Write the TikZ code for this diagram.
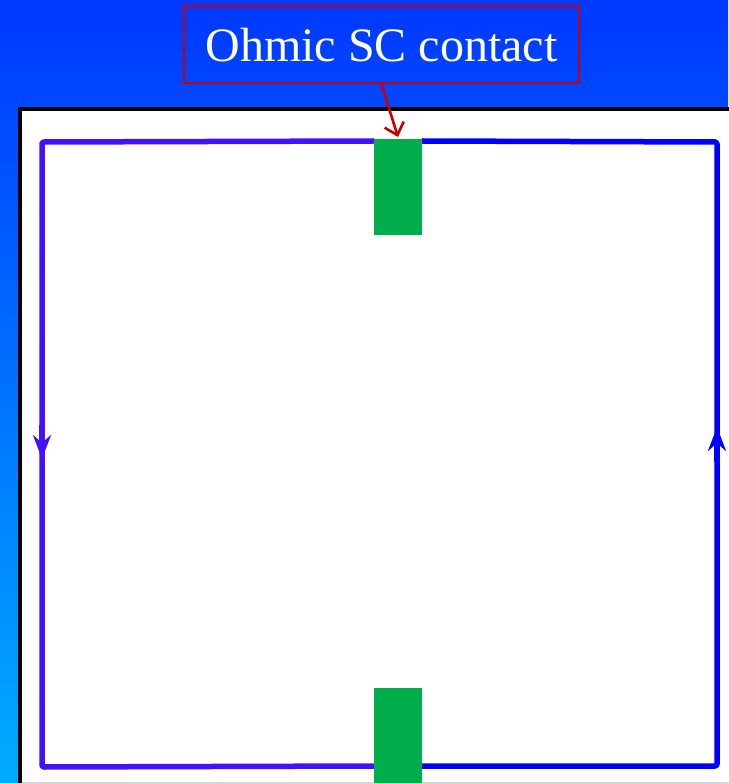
\documentclass[tikz,border=0pt]{standalone}
\usepackage{fontspec}
\setmainfont{Liberation Serif}
\usetikzlibrary{arrows.meta}
\definecolor{bgtop}{RGB}{0,56,255}
\definecolor{bgbottom}{RGB}{0,172,255}
\definecolor{loopviolet}{RGB}{68,17,255}
\definecolor{loopblue}{RGB}{0,0,255}
\definecolor{contactgreen}{RGB}{0,173,76}
\definecolor{labelred}{RGB}{200,0,0}
\tikzset{
  loopline/.style={line width=5.5pt, line join=round, rounded corners=2pt},
  flowtip/.style={line width=5.5pt, -{Stealth[length=24pt, width=18pt, inset=8pt]}},
  contact/.style={fill=contactgreen, draw=none},
  calloutbox/.style={draw=labelred, line width=2pt, text=white, font=\fontsize{48}{56}\selectfont,
    minimum width=395pt, minimum height=77pt, inner sep=0pt},
  callout/.style={draw=labelred, line width=2.6pt, -{Straight Barb[length=11pt, width=20pt]}}
}
\begin{document}
\begin{tikzpicture}[x=1pt, y=-1pt]
  % canvas with vertical blue-to-cyan shading
  \useasboundingbox (0,0) rectangle (728,783);
  \shade[top color=bgtop, bottom color=bgbottom] (0,0) rectangle (728,783);

  % sample area, extending past the right and bottom edges
  \fill[white] (20,109) rectangle (740,800);
  \draw[black, line width=4.5pt] (20,800) -- (20,109) -- (740,109);
  \draw[black!15, line width=1pt] (22,782) -- (728,782);

  % edge-state loops
  \draw[loopline, draw=loopviolet] (374,141) -- (42,142) -- (42,767) -- (374,766);
  \draw[loopline, draw=loopblue] (422,141) -- (717,142) -- (717,766) -- (422,766);
  \draw[flowtip, draw=loopviolet, fill=loopviolet] (42,425) -- (42,459);
  \draw[flowtip, draw=loopblue, fill=loopblue] (717,462) -- (717,427);

  % superconducting contacts
  \node[contact, minimum width=48pt, minimum height=96pt, inner sep=0pt, anchor=north west] (topcontact) at (374,139) {};
  \node[contact, minimum width=48pt, minimum height=96pt, inner sep=0pt, anchor=north west] (botcontact) at (374,688) {};

  % label with pointer
  \node[calloutbox] (label) at (381.5,45) {Ohmic SC contact};
  \coordinate (pointer) at (398,137);
  \draw[callout] (381,83) -- (pointer);
\end{tikzpicture}
\end{document}
